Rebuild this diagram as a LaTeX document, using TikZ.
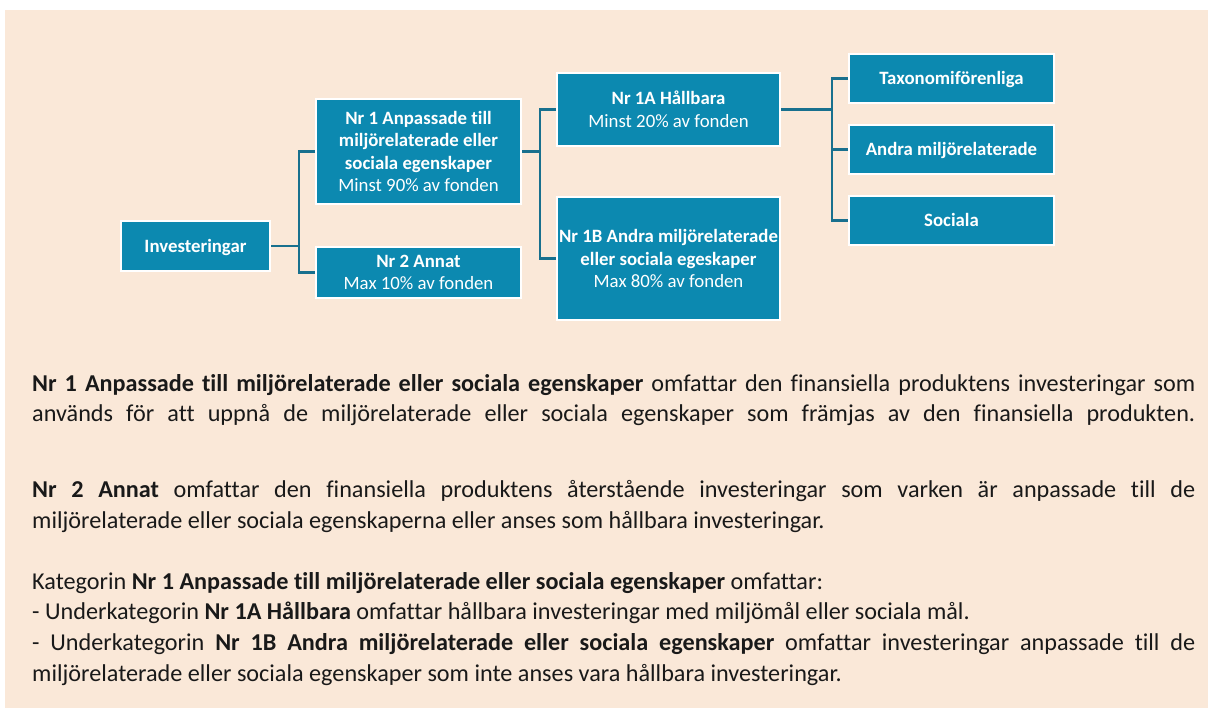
\documentclass[tikz,border=0pt]{standalone}
\usepackage{fontspec}
\setmainfont{Carlito}[Ligatures=NoCommon]
\definecolor{bgpeach}{RGB}{250,232,216}
\definecolor{boxblue}{RGB}{12,137,176}
\definecolor{linkblue}{RGB}{24,112,142}
\definecolor{bodytext}{RGB}{25,25,25}
\tikzset{
  blk/.style={rectangle, draw=white, line width=2pt, fill=boxblue, text=white,
    inner sep=0pt, align=center, font=\fontsize{18.8}{22.6}\selectfont},
  oneline/.style={text height=15.5pt, text depth=3.5pt},
  link/.style={draw=linkblue, line width=2.6pt},
  bodyline/.style={anchor=base west, inner sep=0pt, text=bodytext,
    font=\fontsize{24.2}{30}\selectfont}
}
\newcommand{\jline}[1]{\makebox[1163pt][s]{#1}}
\begin{document}
\begin{tikzpicture}[x=1pt,y=-1pt]
\useasboundingbox (0,0) rectangle (1208,710);
\fill[bgpeach] (5,10) rectangle (1208,708);

\node[blk, oneline, minimum width=149pt, minimum height=50pt] (inv) at (195.5,246) {\textbf{Investeringar}};
\node[blk, minimum width=205pt, minimum height=105pt] (nr1) at (418.5,151.5)
  {\textbf{Nr 1 Anpassade till}\\\textbf{miljörelaterade eller}\\\textbf{sociala egenskaper}\\Minst 90\% av fonden};
\node[blk, minimum width=205pt, minimum height=51pt] (nr2) at (418.5,272.5)
  {\textbf{Nr 2 Annat}\\Max 10\% av fonden};
\node[blk, minimum width=223pt, minimum height=73pt] (n1a) at (668.5,109.5)
  {\textbf{Nr 1A Hållbara}\\Minst 20\% av fonden};
\node[blk, minimum width=223pt, minimum height=123pt] (n1b) at (668.5,258.5)
  {\textbf{Nr 1B Andra miljörelaterade}\\\textbf{eller sociala egeskaper}\\Max 80\% av fonden};
\node[blk, oneline, minimum width=205pt, minimum height=49pt] (tax) at (951.5,78.5) {\textbf{Taxonomiförenliga}};
\node[blk, oneline, minimum width=205pt, minimum height=49pt] (andra) at (951.5,149.5) {\textbf{Andra miljörelaterade}};
\node[blk, oneline, minimum width=205pt, minimum height=49pt] (soc) at (951.5,220.5) {\textbf{Sociala}};

\coordinate (j1) at (299,246);
\coordinate (j2) at (540,151.5);
\coordinate (j3) at (832,109.5);
\draw[link] (inv.east) -- (j1);
\draw[link] (nr1.west) -| (j1) |- (nr2.west);
\draw[link] (nr1.east) -- (j2);
\draw[link] (n1a.west) -| (j2) |- (n1b.west);
\draw[link] (n1a.east) -- (j3);
\draw[link] (tax.west) -| (j3) |- (soc.west);
\draw[link] (andra.west) -| (j3);

\node[bodyline] (t1) at (32,391) {\jline{\textbf{Nr 1 Anpassade till miljörelaterade eller sociala egenskaper} omfattar den finansiella produktens investeringar som}};
\node[bodyline] (t2) at (32,421) {\jline{används för att uppnå de miljörelaterade eller sociala egenskaper som främjas av den finansiella produkten.}};
\node[bodyline] (t3) at (32,497) {\jline{\textbf{Nr 2 Annat} omfattar den finansiella produktens återstående investeringar som varken är anpassade till de}};
\node[bodyline] (t4) at (32,528) {miljörelaterade eller sociala egenskaperna eller anses som hållbara investeringar.};
\node[bodyline] (t5) at (32,589) {Kategorin \textbf{Nr 1 Anpassade till miljörelaterade eller sociala egenskaper} omfattar:};
\node[bodyline] (t6) at (32,619) {- Underkategorin \textbf{Nr 1A Hållbara} omfattar hållbara investeringar med miljömål eller sociala mål.};
\node[bodyline] (t7) at (32,650) {\jline{- Underkategorin \textbf{Nr 1B Andra miljörelaterade eller sociala egenskaper} omfattar investeringar anpassade till de}};
\node[bodyline] (t8) at (32,681) {miljörelaterade eller sociala egenskaper som inte anses vara hållbara investeringar.};
\end{tikzpicture}
\end{document}
